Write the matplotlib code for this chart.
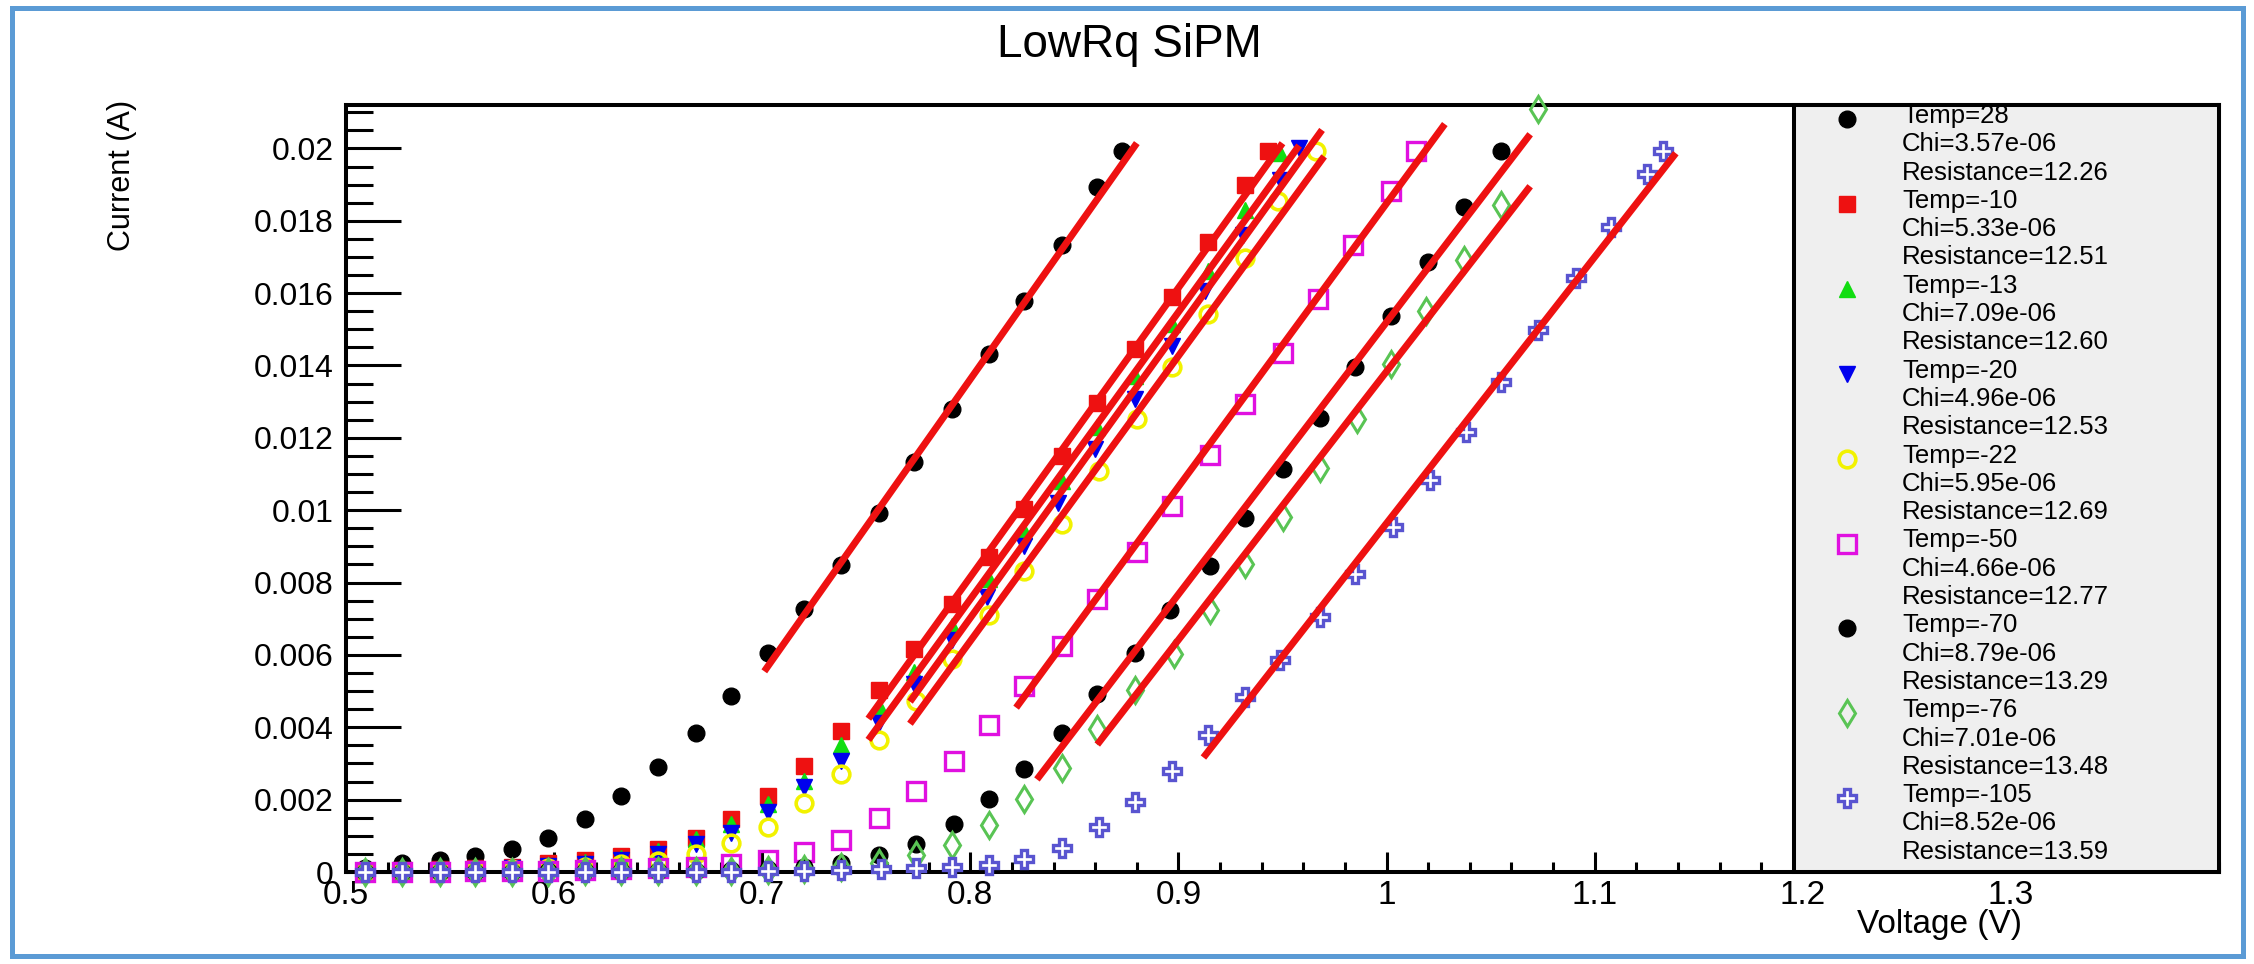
import matplotlib
matplotlib.use("Agg")
import matplotlib.pyplot as plt
from matplotlib.patches import Rectangle
from matplotlib.ticker import MultipleLocator, FixedLocator, FixedFormatter

plt.rcParams['font.family'] = ['Liberation Sans', 'DejaVu Sans']

# ---------------- data ----------------
temps = ["28", "-10", "-13", "-20", "-22", "-50", "-70", "-76", "-105"]
chi_values = ["3.57e-06", "5.33e-06", "7.09e-06", "4.96e-06", "5.95e-06",
              "4.66e-06", "8.79e-06", "7.01e-06", "8.52e-06"]
resistance = [12.26, 12.51, 12.60, 12.53, 12.69, 12.77, 13.29, 13.48, 13.59]

v_p28 = [0.509, 0.527, 0.545, 0.562, 0.580, 0.597, 0.615, 0.632, 0.650, 0.668, 0.685,
         0.703, 0.720, 0.738, 0.756, 0.773, 0.791, 0.809, 0.826, 0.844, 0.861, 0.873]
i_p28 = [0.00012, 0.00024, 0.00033, 0.00043, 0.00063, 0.00095, 0.00146, 0.00211, 0.00290,
         0.00384, 0.00487, 0.00604, 0.00727, 0.00849, 0.00993, 0.01134, 0.01280, 0.01432,
         0.01577, 0.01732, 0.01893, 0.01994]

v_m10 = [0.509, 0.527, 0.545, 0.562, 0.580, 0.597, 0.615, 0.632, 0.650, 0.668, 0.685,
         0.703, 0.720, 0.738, 0.756, 0.773, 0.791, 0.809, 0.826, 0.844, 0.861, 0.879,
         0.897, 0.914, 0.932, 0.943]
i_m10 = [0.00003, 0.00005, 0.00008, 0.00011, 0.00015, 0.00024, 0.00033, 0.00044, 0.00063,
         0.00095, 0.00146, 0.00211, 0.00294, 0.00391, 0.00502, 0.00615, 0.00741, 0.00870,
         0.01004, 0.01150, 0.01297, 0.01445, 0.01590, 0.01740, 0.01900, 0.01993]

v_m13 = [0.509, 0.527, 0.545, 0.562, 0.580, 0.597, 0.615, 0.632, 0.650, 0.668, 0.685,
         0.703, 0.720, 0.738, 0.756, 0.773, 0.791, 0.809, 0.826, 0.844, 0.861, 0.879,
         0.897, 0.914, 0.932, 0.949]
i_m13 = [0.00002, 0.00004, 0.00006, 0.00009, 0.00013, 0.00020, 0.00028, 0.00040, 0.00058,
         0.00091, 0.00132, 0.00188, 0.00252, 0.00350, 0.00458, 0.00553, 0.00681, 0.00810,
         0.00943, 0.01081, 0.01229, 0.01371, 0.01514, 0.01661, 0.01830, 0.01987]

v_m20 = [0.509, 0.527, 0.545, 0.562, 0.580, 0.597, 0.615, 0.632, 0.650, 0.668, 0.685,
         0.703, 0.720, 0.738, 0.756, 0.773, 0.791, 0.808, 0.826, 0.842, 0.860, 0.879,
         0.897, 0.913, 0.931, 0.949, 0.958]
i_m20 = [0.00002, 0.00003, 0.00005, 0.00007, 0.00010, 0.00016, 0.00023, 0.00033, 0.00049,
         0.00077, 0.00109, 0.00165, 0.00234, 0.00308, 0.00412, 0.00520, 0.00640, 0.00760,
         0.00900, 0.01021, 0.01169, 0.01307, 0.01454, 0.01606, 0.01762, 0.01914, 0.02001]

v_m22 = [0.509, 0.527, 0.545, 0.562, 0.580, 0.597, 0.615, 0.632, 0.650, 0.668, 0.685,
         0.703, 0.720, 0.738, 0.756, 0.774, 0.791, 0.809, 0.826, 0.844, 0.862, 0.880,
         0.897, 0.914, 0.932, 0.948, 0.966]
i_m22 = [0.00001, 0.00002, 0.00003, 0.00005, 0.00007, 0.00010, 0.00014, 0.00021, 0.00031,
         0.00049, 0.00081, 0.00123, 0.00192, 0.00271, 0.00366, 0.00474, 0.00589, 0.00709,
         0.00833, 0.00962, 0.01109, 0.01252, 0.01396, 0.01543, 0.01697, 0.01854, 0.01994]

v_m50 = [0.509, 0.527, 0.545, 0.562, 0.580, 0.597, 0.615, 0.632, 0.650, 0.668, 0.685,
         0.703, 0.720, 0.738, 0.756, 0.774, 0.792, 0.809, 0.826, 0.844, 0.861, 0.880,
         0.897, 0.915, 0.932, 0.950, 0.967, 0.984, 1.002, 1.014]
i_m50 = [0.00001, 0.00001, 0.00001, 0.00002, 0.00003, 0.00004, 0.00005, 0.00007, 0.00010,
         0.00015, 0.00021, 0.00033, 0.00054, 0.00088, 0.00149, 0.00223, 0.00306, 0.00407,
         0.00513, 0.00626, 0.00755, 0.00884, 0.01012, 0.01152, 0.01293, 0.01435, 0.01584,
         0.01732, 0.01883, 0.01994]

v_m70 = [0.509, 0.527, 0.545, 0.562, 0.580, 0.597, 0.615, 0.632, 0.650, 0.668, 0.685,
         0.703, 0.720, 0.738, 0.756, 0.774, 0.792, 0.809, 0.826, 0.844, 0.861, 0.879,
         0.896, 0.915, 0.932, 0.950, 0.968, 0.985, 1.002, 1.020, 1.037, 1.055]
i_m70 = [0.00001, 0.00001, 0.00001, 0.00001, 0.00001, 0.00002, 0.00002, 0.00003, 0.00003,
         0.00004, 0.00006, 0.00009, 0.00014, 0.00025, 0.00047, 0.00077, 0.00132, 0.00203,
         0.00286, 0.00384, 0.00493, 0.00605, 0.00723, 0.00847, 0.00978, 0.01114, 0.01256,
         0.01396, 0.01538, 0.01686, 0.01837, 0.01994]

v_m76 = [0.509, 0.527, 0.545, 0.562, 0.580, 0.597, 0.615, 0.632, 0.650, 0.668, 0.685,
         0.703, 0.720, 0.738, 0.756, 0.774, 0.791, 0.809, 0.826, 0.844, 0.861, 0.879,
         0.898, 0.915, 0.932, 0.950, 0.968, 0.986, 1.002, 1.019, 1.037, 1.055, 1.073]
i_m76 = [0.00001, 0.00001, 0.00001, 0.00001, 0.00001, 0.00001, 0.00002, 0.00002, 0.00003,
         0.00003, 0.00004, 0.00006, 0.00009, 0.00014, 0.00025, 0.00047, 0.00075, 0.00131,
         0.00201, 0.00288, 0.00396, 0.00502, 0.00603, 0.00725, 0.00850, 0.00980, 0.01118,
         0.01252, 0.01403, 0.01550, 0.01692, 0.01843, 0.02110]

v_m105 = [0.509, 0.527, 0.545, 0.562, 0.580, 0.597, 0.615, 0.632, 0.650, 0.668, 0.685,
          0.703, 0.720, 0.738, 0.757, 0.774, 0.791, 0.809, 0.826, 0.844, 0.862, 0.879,
          0.897, 0.914, 0.932, 0.949, 0.968, 0.985, 1.003, 1.021, 1.038, 1.055, 1.073,
          1.091, 1.108, 1.125, 1.133]
i_m105 = [0.00001, 0.00001, 0.00001, 0.00001, 0.00001, 0.00001, 0.00001, 0.00001, 0.00001,
          0.00001, 0.00001, 0.00002, 0.00003, 0.00005, 0.00008, 0.00010, 0.00013, 0.00019,
          0.00035, 0.00065, 0.00125, 0.00194, 0.00280, 0.00378, 0.00484, 0.00587, 0.00704,
          0.00825, 0.00953, 0.01083, 0.01215, 0.01354, 0.01497, 0.01643, 0.01782, 0.01928,
          0.01993]

# linear fits: I = (V - V0) / R over [fit_lo, fit_hi]
fit_v0 = [0.633, 0.698, 0.705, 0.712, 0.719, 0.764, 0.798, 0.8135, 0.869]
fit_lo = [0.701, 0.751, 0.751, 0.771, 0.771, 0.822, 0.832, 0.861, 0.912]
fit_hi = [0.880, 0.950, 0.958, 0.969, 0.970, 1.028, 1.069, 1.069, 1.139]

x_ticks = [0.5, 0.6, 0.7, 0.8, 0.9, 1.0, 1.1, 1.2, 1.3]
x_tick_labels = ["0.5", "0.6", "0.7", "0.8", "0.9", "1", "1.1", "1.2", "1.3"]
y_ticks = [0, 0.002, 0.004, 0.006, 0.008, 0.010, 0.012, 0.014, 0.016, 0.018, 0.020]
y_tick_labels = ["0", "0.002", "0.004", "0.006", "0.008", "0.01", "0.012",
                 "0.014", "0.016", "0.018", "0.02"]

series_v = [v_p28, v_m10, v_m13, v_m20, v_m22, v_m50, v_m70, v_m76, v_m105]
series_i = [i_p28, i_m10, i_m13, i_m20, i_m22, i_m50, i_m70, i_m76, i_m105]

# marker styles (ROOT-like)
styles = [
    dict(marker='o', ms=12, mfc='#000000', mec='#000000', mew=1),
    dict(marker='s', ms=11.5, mfc='#ee1111', mec='#ee1111', mew=1),
    dict(marker='^', ms=12, mfc='#11dd11', mec='#11dd11', mew=1),
    dict(marker='v', ms=12, mfc='#0000ee', mec='#0000ee', mew=1),
    dict(marker='o', ms=12, mfc='none', mec='#f2f200', mew=2.6),
    dict(marker='s', ms=12.5, mfc='none', mec='#e010e0', mew=2.4),
    dict(marker='o', ms=12, mfc='#000000', mec='#000000', mew=1),
    dict(marker='d', ms=13, mfc='none', mec='#59c454', mew=2.2),
    dict(marker='P', ms=13, mfc='white', mec='#5954d0', mew=2.4),
]

W, H = 2254, 964
fig = plt.figure(figsize=(W / 100, H / 100), dpi=100)
ax_l, ax_r, ax_t, ax_b = 346, 2219, 105, 872
ax = fig.add_axes([ax_l / W, 1 - ax_b / H, (ax_r - ax_l) / W, (ax_b - ax_t) / H])

for v, i, st in zip(series_v, series_i, styles):
    ax.plot(v, i, linestyle='none', clip_on=False, zorder=3, **st)

for v0, r, lo, hi in zip(fit_v0, resistance, fit_lo, fit_hi):
    xs = [lo, hi]
    ys = [(x - v0) / r for x in xs]
    ax.plot(xs, ys, color='#ee1111', lw=5, solid_capstyle='butt', zorder=4)

ax.set_xlim(0.5, 1.4)
ax.set_ylim(0, 0.0212)

ax.xaxis.set_major_locator(FixedLocator(x_ticks))
ax.xaxis.set_major_formatter(FixedFormatter(x_tick_labels))
ax.xaxis.set_minor_locator(MultipleLocator(0.02))
ax.yaxis.set_major_locator(FixedLocator(y_ticks))
ax.yaxis.set_major_formatter(FixedFormatter(y_tick_labels))
ax.yaxis.set_minor_locator(MultipleLocator(0.0005))

ax.tick_params(axis='x', which='major', direction='in', length=14.4, width=2.2,
               labelsize=24, pad=6, top=False)
ax.tick_params(axis='x', which='minor', direction='in', length=7.2, width=2.2, top=False)
ax.tick_params(axis='y', which='major', direction='in', length=39.6, width=2.2,
               labelsize=23, pad=9, right=False)
ax.tick_params(axis='y', which='minor', direction='in', length=19.4, width=2.2, right=False)
for sp in ax.spines.values():
    sp.set_linewidth(2.9)

# legend box (drawn manually, ROOT-style)
leg_x0 = (1794 - ax_l) / (ax_r - ax_l)
ax.add_patch(Rectangle((leg_x0, 0), 1 - leg_x0, 1, transform=ax.transAxes,
                       facecolor='#efefef', edgecolor='black', lw=2.9,
                       zorder=5, clip_on=False))
mk_x = (1847 - ax_l) / (ax_r - ax_l)
tx_x = (1902 - ax_l) / (ax_r - ax_l)
line_step = 28.3
first_line = 116
for k, (t, c, r, st) in enumerate(zip(temps, chi_values, resistance, styles)):
    lines = [f"Temp={t}", f"Chi={c}", f"Resistance={r:.2f}"]
    for j, txt in enumerate(lines):
        ypx = first_line + (3 * k + j) * line_step
        yf = (ax_b - ypx) / (ax_b - ax_t)
        ax.text(tx_x, yf, txt, transform=ax.transAxes, fontsize=18.5,
                ha='left', va='center', zorder=6)
    ypx = first_line + 3 * k * line_step + 3
    yf = (ax_b - ypx) / (ax_b - ax_t)
    ax.plot([mk_x], [yf], transform=ax.transAxes, linestyle='none',
            clip_on=False, zorder=6, **st)

# titles
fig.text(1129 / W, 1 - 57 / H, "LowRq SiPM", fontsize=33, ha='center', va='baseline')
fig.text(122 / W, 1 - 100 / H, "Current (A)", fontsize=22, rotation=90,
         ha='center', va='top')
fig.text(2022 / W, 1 - 924 / H, "Voltage (V)", fontsize=24, ha='right', va='center')

# light blue outer frame
fig.patches.append(Rectangle((12 / W, 8 / H), (2243 - 12) / W, (956 - 8) / H,
                             transform=fig.transFigure, fill=False,
                             edgecolor='#5b9bd5', lw=3.6))

fig.savefig("out.png", dpi=100)
